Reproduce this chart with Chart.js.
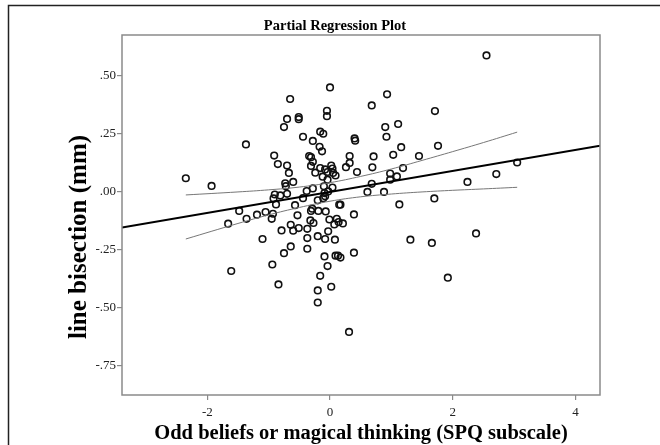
<!DOCTYPE html>
<html>
<head>
<meta charset="utf-8">
<script src="https://cdn.jsdelivr.net/npm/chart.js@4.4.1/dist/chart.umd.min.js"></script>
<style>
  html, body { margin: 0; padding: 0; background: #fff; }
  #wrap { width: 660px; height: 445px; position: relative; }
</style>
</head>
<body>
<div id="wrap"><canvas id="plot" width="660" height="445"></canvas></div>
<script>
// scatter values (x = SPQ subscale residual, y = line bisection residual)
const pointX = [
  0.00, -0.65, 0.93, 0.68, -0.05, -0.05, -0.51, -0.51, -0.70, -0.75,
  0.90, 0.92, 1.11, -0.44, -0.28, -0.16, -0.11, -0.17, -0.13, 0.40,
  0.41, -1.37, -0.91, -0.85, -0.70, -0.67, -0.60, -0.73, -0.72, -2.35,
  -1.93, -0.34, -0.31, -0.28, -0.31, -0.24, -0.16, -0.08, -0.04, 0.02,
  0.04, 0.05, 0.09, -0.12, -0.04, 0.26, 0.32, 0.32, 0.44, 0.71,
  0.69, 1.03, 0.98, 0.98, 1.09, 0.68, 0.61, 0.88, -0.28, -0.38,
  -0.44, -0.20, -0.11, -0.08, -0.03, -0.10, -0.09, 0.04, -0.90, -0.81,
  -0.92, -0.70, -0.88, -0.57, -0.29, -0.31, -0.19, -0.07, 0.15, 0.17,
  -0.53, -1.10, -0.79, -0.64, -0.60, -0.51, -0.37, -0.32, -0.27, -0.01,
  0.11, 0.14, 0.07, 0.21, -0.03, -0.20, -0.08, 0.08, -0.37, -0.64,
  -0.75, -0.37, 0.39, 0.39, -0.09, 0.09, 0.13, 0.17, -0.04, -0.94,
  -1.61, -0.16, -0.84, 0.02, -0.20, -0.20, 0.31, -1.66, -1.48, -1.36,
  -1.19, -1.05, -0.93, -0.95, 1.13, 1.31, 1.66, 2.38, 1.92, 1.70,
  2.24, 2.71, 3.05, 2.55, 1.71, 1.16, 1.76, 1.45, 1.19,
];
const pointY = [
  0.451, 0.401, 0.421, 0.373, 0.350, 0.327, 0.323, 0.314, 0.315, 0.280,
  0.280, 0.238, 0.293, 0.238, 0.220, 0.260, 0.251, 0.195, 0.175, 0.231,
  0.221, 0.205, 0.157, 0.120, 0.114, 0.082, 0.043, 0.037, 0.025, 0.059,
  0.026, 0.155, 0.150, 0.130, 0.112, 0.083, 0.103, 0.097, 0.086, 0.114,
  0.101, 0.082, 0.071, 0.066, 0.053, 0.107, 0.155, 0.125, 0.086, 0.153,
  0.106, 0.160, 0.079, 0.053, 0.067, 0.035, 0.000, 0.000, 0.015, 0.004,
  -0.027, -0.036, -0.027, -0.019, 0.002, 0.024, -0.005, 0.019, -0.011, -0.015,
  -0.028, -0.008, -0.054, -0.057, -0.072, -0.082, -0.082, -0.084, -0.055, -0.055,
  -0.101, -0.203, -0.166, -0.142, -0.167, -0.156, -0.159, -0.123, -0.134, -0.119,
  -0.116, -0.130, -0.140, -0.136, -0.170, -0.191, -0.203, -0.206, -0.199, -0.235,
  -0.264, -0.245, -0.097, -0.262, -0.278, -0.275, -0.275, -0.283, -0.320, -0.313,
  -0.341, -0.362, -0.399, -0.409, -0.425, -0.477, -0.604, -0.137, -0.082, -0.116,
  -0.098, -0.087, -0.094, -0.116, -0.054, -0.206, -0.220, -0.179, -0.370, -0.028,
  0.043, 0.077, 0.127, 0.589, 0.349, 0.193, 0.199, 0.155, 0.103,
];

// fitted regression line, edge to edge
const fitX = [-3.39, 4.4];
const fitY = [-0.154, 0.199];

// 95% confidence band for the mean, read at a few x positions
const bandX = [-2.35, -1.5, -1.0, -0.5, 0.0, 0.5, 1.0, 1.5, 2.0, 2.5, 3.05];
const bandUpper = [-0.013, 0.0, 0.009, 0.021, 0.04, 0.067, 0.099, 0.136, 0.174, 0.213, 0.258];
const bandLower = [-0.203, -0.136, -0.099, -0.067, -0.04, -0.021, -0.009, 0.0, 0.007, 0.013, 0.02];

const xTitle = "Odd beliefs or magical thinking (SPQ subscale)";
const yTitle = "line bisection (mm)";
const chartTitle = "Partial Regression Plot";

const serif = "'Liberation Serif', 'Times New Roman', serif";

const toPoints = (xs, ys) => xs.map((x, i) => ({ x: x, y: ys[i] }));

const fmtY = (v) => {
  const s = Number(v).toFixed(2);
  return s.replace(/^(-?)0\./, "$1.");
};

// outer frame, box round the plot, chart title and rotated y title
const framePlugin = {
  id: "frame",
  beforeDraw: (chart) => {
    const ctx = chart.ctx;
    ctx.save();
    ctx.fillStyle = "#fff";
    ctx.fillRect(0, 0, chart.width, chart.height);
    ctx.strokeStyle = "#222";
    ctx.lineWidth = 1.5;
    ctx.beginPath();
    ctx.moveTo(8.5, chart.height);
    ctx.lineTo(8.5, 5.5);
    ctx.lineTo(chart.width, 5.5);
    ctx.stroke();
    ctx.restore();
  },
  afterDraw: (chart) => {
    const { ctx, chartArea } = chart;
    ctx.save();
    ctx.strokeStyle = "#8a8a8a";
    ctx.lineWidth = 1.5;
    ctx.strokeRect(chartArea.left, chartArea.top, chartArea.right - chartArea.left, chartArea.bottom - chartArea.top);
    ctx.fillStyle = "#000";
    ctx.textAlign = "center";
    ctx.textBaseline = "middle";
    ctx.font = "bold 14.5px " + serif;
    ctx.fillText(chartTitle, 335, 26);
    ctx.translate(80, 237);
    ctx.rotate(-Math.PI / 2);
    ctx.font = "bold 25px " + serif;
    ctx.fillText(yTitle, 0, 0);
    ctx.restore();
  },
};

const ctx = document.getElementById("plot");
new Chart(ctx, {
  type: "scatter",
  data: {
    datasets: [
      {
        label: "upper",
        data: toPoints(bandX, bandUpper),
        showLine: true,
        borderColor: "#777",
        borderWidth: 1,
        pointRadius: 0,
        tension: 0.4,
        fill: false,
      },
      {
        label: "lower",
        data: toPoints(bandX, bandLower),
        showLine: true,
        borderColor: "#777",
        borderWidth: 1,
        pointRadius: 0,
        tension: 0.4,
        fill: false,
      },
      {
        label: "fit",
        data: toPoints(fitX, fitY),
        showLine: true,
        borderColor: "#000",
        borderWidth: 2,
        pointRadius: 0,
        fill: false,
      },
      {
        label: "cases",
        data: toPoints(pointX, pointY),
        pointStyle: "circle",
        pointRadius: 3.3,
        pointBorderWidth: 1.6,
        pointBorderColor: "#111",
        pointBackgroundColor: "rgba(255,255,255,0)",
      },
    ],
  },
  options: {
    responsive: false,
    animation: false,
    layout: {
      padding: { top: 35, right: 60, bottom: 0, left: 0 },
    },
    plugins: {
      legend: { display: false },
      tooltip: { enabled: false },
      title: { display: false },
    },
    scales: {
      x: {
        type: "linear",
        min: -3.39,
        max: 4.4,
        afterFit: (scale) => {
          scale.height = 50;
        },
        border: { display: false },
        grid: {
          drawOnChartArea: false,
          drawTicks: true,
          tickLength: 5,
          color: "#8a8a8a",
          lineWidth: 1.2,
        },
        ticks: {
          stepSize: 2,
          includeBounds: false,
          maxRotation: 0,
          padding: 5,
          color: "#222",
          font: { family: serif, size: 13 },
          callback: (value) => String(value),
        },
        title: {
          display: true,
          text: xTitle,
          color: "#000",
          font: { family: serif, size: 20.5, weight: "bold", lineHeight: 1.1 },
          padding: { top: 0, bottom: 0 },
        },
      },
      y: {
        type: "linear",
        min: -0.876,
        max: 0.677,
        afterFit: (scale) => {
          scale.width = 122;
        },
        border: { display: false },
        grid: {
          drawOnChartArea: false,
          drawTicks: true,
          tickLength: 5,
          color: "#8a8a8a",
          lineWidth: 1.2,
        },
        ticks: {
          stepSize: 0.25,
          includeBounds: false,
          padding: 1,
          color: "#222",
          font: { family: serif, size: 13 },
          callback: (value) => fmtY(value),
        },
      },
    },
  },
  plugins: [framePlugin],
});
</script>
</body>
</html>
